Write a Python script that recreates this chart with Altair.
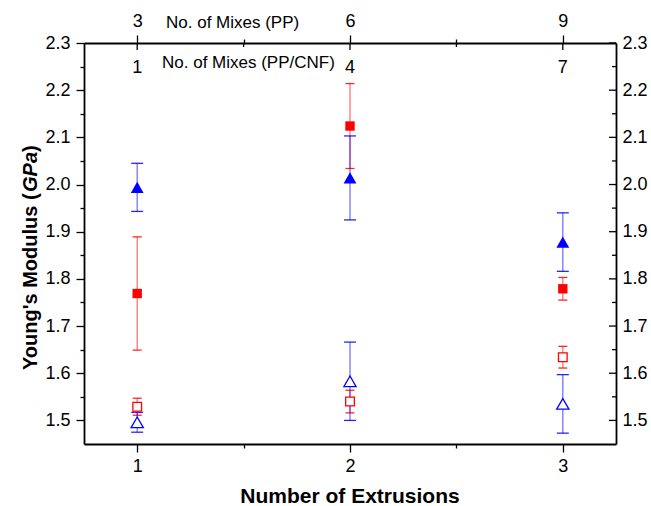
import altair as alt
import pandas as pd

# ---------------- data ----------------
extrusions = [1, 2, 3]
mixes_pp = [3, 6, 9]
mixes_pp_cnf = [1, 4, 7]

series_names = ["PP/CNF (filled)", "PP/CNF (filled, blue)", "PP (open)", "PP (open, blue)"]
series_colors = ["#ff0000", "#0000ff", "#ff0000", "#0000ff"]
series_shapes = ["square", "triangle-up", "square", "triangle-up"]
series_filled = [True, True, False, False]
series_sizes = [88, 165, 75, 150]
cap_widths = [9, 12, 9, 12]

red_filled_mean = [1.769, 2.124, 1.779]
red_filled_err = [0.120, 0.090, 0.024]
blue_filled_mean = [1.994, 2.014, 1.878]
blue_filled_err = [0.051, 0.089, 0.062]
red_open_mean = [1.529, 1.540, 1.634]
red_open_err = [0.018, 0.024, 0.023]
blue_open_mean = [1.496, 1.583, 1.535]
blue_open_err = [0.021, 0.083, 0.062]

means = [red_filled_mean, blue_filled_mean, red_open_mean, blue_open_mean]
errs = [red_filled_err, blue_filled_err, red_open_err, blue_open_err]

x_major = [1, 2, 3]
x_minor = [1.5, 2.5]
y_major = [1.5, 1.6, 1.7, 1.8, 1.9, 2.0, 2.1, 2.2, 2.3]
y_minor = [1.55, 1.65, 1.75, 1.85, 1.95, 2.05, 2.15, 2.25]

# ---------------- table ----------------
rows = []
for name, m_list, e_list in zip(series_names, means, errs):
    for x, m, e in zip(extrusions, m_list, e_list):
        rows.append({"series": name, "ext": x, "mean": m, "lo": m - e, "hi": m + e})
df = pd.DataFrame(rows)

W, H = 532, 401
FONT = "Liberation Sans"

xscale = alt.Scale(domain=[0.75, 3.25], nice=False, zero=False)
yscale = alt.Scale(domain=[1.45, 2.3], nice=False, zero=False)

is_int_x = "abs(datum.value - round(datum.value)) < 0.001"
is_major_y = "abs(datum.value*10 - round(datum.value*10)) < 0.001"

bottom_axis = alt.Axis(
    orient="bottom", values=x_major + x_minor, title=None, grid=False,
    labelExpr=f"{is_int_x} ? format(datum.value, 'd') : ''",
    tickSize={"condition": {"test": is_int_x, "value": 8}, "value": 4},
    labelPadding=5, labelFontSize=18, labelColor="black",
)
left_axis = alt.Axis(
    orient="left", values=y_major + y_minor, title=None, grid=False,
    labelExpr=f"{is_major_y} ? format(datum.value, '.1f') : ''",
    tickSize={"condition": {"test": is_major_y, "value": 8}, "value": 4},
    labelPadding=6, labelFontSize=18, labelColor="black",
)
top_expr = " : ".join(
    f"abs(datum.value - {x}) < 0.001 ? '{lab}'" for x, lab in zip(extrusions, mixes_pp)
) + " : ''"
top_axis = alt.Axis(
    orient="top", values=x_major + x_minor, title=None, grid=False,
    labelExpr=top_expr,
    tickSize={"condition": {"test": is_int_x, "value": 8}, "value": 4},
    labelPadding=5, labelFontSize=18, labelColor="black",
)
right_axis = alt.Axis(
    orient="right", values=y_major, title=None, grid=False, ticks=False, tickSize=0,
    labelExpr="format(datum.value, '.1f')",
    labelPadding=6, labelFontSize=18, labelColor="black",
)

layers = []

# error bars (lines + caps)
for i, (name, col, cw) in enumerate(zip(series_names, series_colors, cap_widths)):
    base = alt.Chart(df).transform_filter(alt.datum.series == name)
    x_enc = alt.X("ext:Q", scale=xscale, axis=bottom_axis if i == 0 else None)
    rule = base.mark_rule(color=col, strokeWidth=1.3, opacity=0.55).encode(
        x=x_enc,
        y=alt.Y("lo:Q", scale=yscale, axis=left_axis if i == 0 else None),
        y2="hi:Q",
    )
    layers.append(rule)
    for fld in ["lo", "hi"]:
        cap = base.mark_tick(color=col, orient="horizontal", thickness=1.3,
                             size=cw, opacity=0.85).encode(
            x=alt.X("ext:Q", scale=xscale, axis=None),
            y=alt.Y(f"{fld}:Q", scale=yscale, axis=None),
        )
        layers.append(cap)

# markers
for name, col, shp, fl, sz in zip(series_names, series_colors, series_shapes,
                                  series_filled, series_sizes):
    base = alt.Chart(df).transform_filter(alt.datum.series == name)
    if fl:
        mk = base.mark_point(shape=shp, filled=True, color=col, size=sz,
                             opacity=1, strokeWidth=0)
    else:
        mk = base.mark_point(shape=shp, filled=False, fill="white", fillOpacity=1,
                             stroke=col, size=sz, opacity=1, strokeWidth=1.3)
    layers.append(mk.encode(
        x=alt.X("ext:Q", scale=xscale, axis=None),
        y=alt.Y("mean:Q", scale=yscale, axis=None),
    ))

# top / right axes carrier
axis_layer = alt.Chart(df).mark_point(opacity=0).encode(
    x=alt.X("ext:Q", scale=xscale, axis=top_axis),
    y=alt.Y("mean:Q", scale=yscale, axis=right_axis),
)
layers.append(axis_layer)

# inward ticks on the right axis
ymaj_df = pd.DataFrame({"v": y_major})
ymin_df = pd.DataFrame({"v": y_minor})
layers.append(alt.Chart(ymaj_df).mark_rule(color="black", strokeWidth=1.3).encode(
    y=alt.Y("v:Q", scale=yscale, axis=None), x=alt.value(W - 7), x2=alt.value(W)))
layers.append(alt.Chart(ymin_df).mark_rule(color="black", strokeWidth=1.3).encode(
    y=alt.Y("v:Q", scale=yscale, axis=None), x=alt.value(W - 4), x2=alt.value(W)))

# inward ticks on the top axis
xmaj_df = pd.DataFrame({"v": x_major})
xmin_df = pd.DataFrame({"v": x_minor})
layers.append(alt.Chart(xmaj_df).mark_rule(color="black", strokeWidth=1.3).encode(
    x=alt.X("v:Q", scale=xscale, axis=None), y=alt.value(0), y2=alt.value(7)))
layers.append(alt.Chart(xmin_df).mark_rule(color="black", strokeWidth=1.3).encode(
    x=alt.X("v:Q", scale=xscale, axis=None), y=alt.value(0), y2=alt.value(4)))

# inner labels for PP/CNF mixes
inner_df = pd.DataFrame({"ext": extrusions, "lab": [str(v) for v in mixes_pp_cnf]})
layers.append(alt.Chart(inner_df).mark_text(fontSize=18, baseline="alphabetic",
                                            align="center", color="black").encode(
    x=alt.X("ext:Q", scale=xscale, axis=None), y=alt.value(30), text="lab:N"))

# text annotations
def label(txt, x, y, size, **kw):
    return alt.Chart(pd.DataFrame({"t": [txt]})).mark_text(
        fontSize=size, color="black", **kw).encode(
        x=alt.value(x), y=alt.value(y), text="t:N")

layers.append(label("No. of Mixes (PP)", 82, -15, 17, align="left", baseline="alphabetic"))
layers.append(label("No. of Mixes (PP/CNF)", 78, 25, 17, align="left", baseline="alphabetic"))
layers.append(label("Number of Extrusions", W / 2, 460, 21, align="center",
                    baseline="alphabetic", fontWeight="bold"))
layers.append(label("Young's Modulus (", -47, 327, 20, align="left", baseline="alphabetic",
                    fontWeight="bold", angle=270))
layers.append(label("GPa", -47, 149, 20, align="left", baseline="alphabetic",
                    fontWeight="bold", fontStyle="italic", angle=270))
layers.append(label(")", -47, 109, 20, align="left", baseline="alphabetic",
                    fontWeight="bold", angle=270))

chart = alt.layer(*layers).resolve_axis(x="independent", y="independent").properties(
    width=W, height=H,
    autosize=alt.AutoSizeParams(type="none"),
    padding={"left": 84, "top": 43, "right": 35, "bottom": 62},
).configure(font=FONT).configure_view(strokeWidth=0).configure_axis(
    domainColor="black", domainWidth=1.8, tickColor="black", tickWidth=1.3,
    labelFont=FONT,
)

chart.save("out.html", embed_options={"renderer": "svg", "actions": False})
